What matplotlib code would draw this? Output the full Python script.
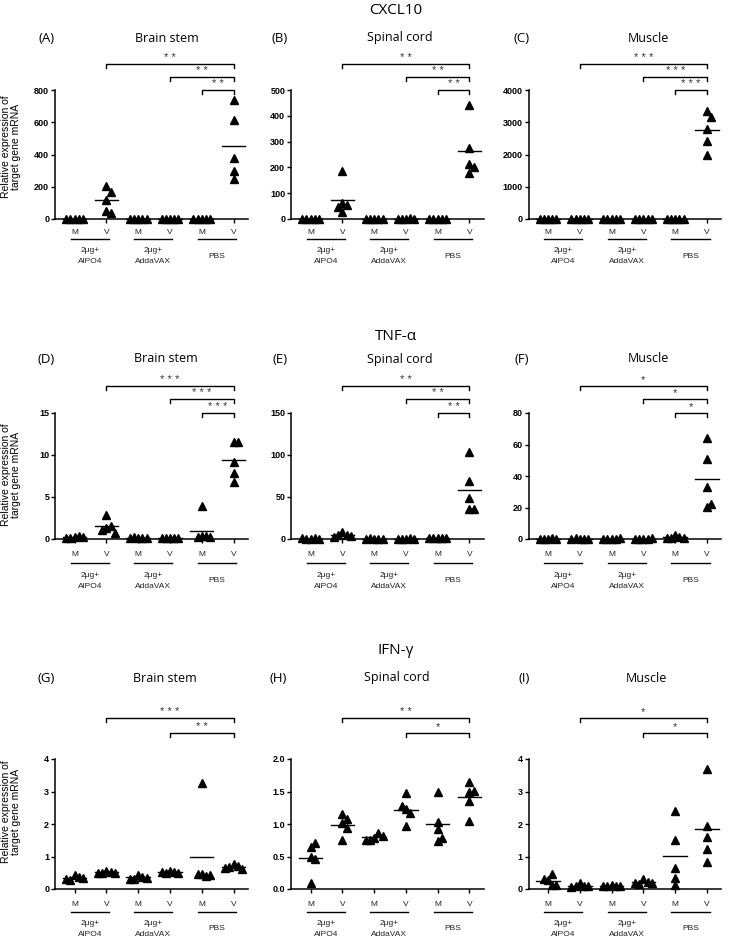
import numpy as np
import matplotlib
matplotlib.use('Agg')
import matplotlib.pyplot as plt
from matplotlib.transforms import blended_transform_factory

# ---------------- data ----------------
positions = [0, 1, 2, 3, 4, 5]
pos_labels = ['M', 'V', 'M', 'V', 'M', 'V']
group_labels = ['2μg+\nAlPO4', '2μg+\nAddaVAX', 'PBS']
genes = ['CXCL10', 'TNF-α', 'IFN-γ']
tissues = ['Brain stem', 'Spinal cord', 'Muscle']
letters = ['(A)', '(B)', '(C)', '(D)', '(E)', '(F)', '(G)', '(H)', '(I)']

cxcl10_brain = [[1.0, 0.8, 1.2, 0.9, 1.1], [202, 170, 118, 52, 35], [1.0, 1.2, 0.8, 0.9, 1.1],
                [1.5, 2.0, 1.2, 1.8, 1.0], [1.0, 0.9, 1.1, 1.2, 0.8], [738, 611, 378, 295, 249]]
cxcl10_spinal = [[1.0, 0.8, 1.2, 0.9, 1.1], [187, 63, 53, 47, 27], [1.0, 1.2, 0.8, 0.9, 1.1],
                 [1.5, 2.0, 1.2, 1.8, 1.0], [1.0, 0.9, 1.1, 1.2, 0.8], [440, 276, 213, 203, 180]]
cxcl10_muscle = [[1.0, 0.8, 1.2, 0.9, 1.1], [2.0, 1.5, 1.2, 1.8, 1.0], [1.0, 1.2, 0.8, 0.9, 1.1],
                 [1.5, 2.0, 1.2, 1.8, 1.0], [1.0, 0.9, 1.1, 1.2, 0.8], [3359, 3152, 2791, 2429, 1995]]
tnf_brain = [[0.20, 0.30, 0.10, 0.25, 0.15], [2.80, 1.35, 1.50, 1.05, 0.75], [0.15, 0.12, 0.18, 0.14, 0.16],
             [0.10, 0.12, 0.08, 0.11, 0.09], [3.90, 0.35, 0.30, 0.25, 0.20], [11.6, 11.5, 9.2, 7.9, 6.8]]
tnf_spinal = [[0.5, 0.6, 0.4, 0.5, 0.7], [8.4, 5.0, 5.0, 4.0, 2.4], [0.5, 0.4, 0.6, 0.5, 0.3],
              [0.5, 0.6, 0.4, 0.5, 0.3], [1.5, 1.0, 0.8, 0.9, 0.8], [103, 69, 49, 36, 36]]
tnf_muscle = [[0.3, 0.4, 0.2, 0.3, 0.3], [0.3, 0.2, 0.4, 0.3, 0.3], [0.3, 0.2, 0.3, 0.4, 0.3],
              [0.3, 0.2, 0.3, 0.4, 0.3], [2.5, 1.0, 0.5, 0.6, 0.4], [64.4, 50.7, 33.3, 20.2, 22.3]]
ifn_brain = [[0.42, 0.36, 0.28, 0.34, 0.30], [0.55, 0.52, 0.50, 0.48, 0.50], [0.42, 0.38, 0.32, 0.35, 0.30],
             [0.56, 0.52, 0.50, 0.48, 0.52], [3.25, 0.47, 0.39, 0.45, 0.44], [0.78, 0.72, 0.68, 0.62, 0.66]]
ifn_spinal = [[0.50, 0.64, 0.71, 0.455, 0.09], [1.01, 0.94, 1.08, 1.15, 0.75], [0.79, 0.86, 0.76, 0.81, 0.76],
              [1.23, 1.47, 1.17, 1.27, 0.97], [1.03, 1.50, 0.92, 0.74, 0.79], [1.50, 1.64, 1.51, 1.36, 1.04]]
ifn_muscle = [[0.28, 0.47, 0.30, 0.12, 0.12], [0.18, 0.10, 0.08, 0.10, 0.07], [0.12, 0.10, 0.08, 0.10, 0.09],
              [0.30, 0.22, 0.16, 0.20, 0.18], [2.41, 1.52, 0.65, 0.34, 0.11], [3.68, 1.93, 1.60, 1.24, 0.83]]

yticks_cxcl10 = [[0, 200, 400, 600, 800], [0, 100, 200, 300, 400, 500], [0, 1000, 2000, 3000, 4000]]
yticks_tnf = [[0, 5, 10, 15], [0, 50, 100, 150], [0, 20, 40, 60, 80]]
yticks_ifn = [[0, 1, 2, 3, 4], [0.0, 0.5, 1.0, 1.5, 2.0], [0, 1, 2, 3, 4]]
ytick_fmt_ifn = ['{:.0f}', '{:.1f}', '{:.0f}']

# significance brackets: (start position, end position, stars)
sig_cxcl10 = [[(1, 5, '* *'), (3, 5, '* *'), (4, 5, '* *')],
              [(1, 5, '* *'), (3, 5, '* *'), (4, 5, '* *')],
              [(1, 5, '* * *'), (3, 5, '* * *'), (4, 5, '* * *')]]
sig_tnf = [[(1, 5, '* * *'), (3, 5, '* * *'), (4, 5, '* * *')],
           [(1, 5, '* *'), (3, 5, '* *'), (4, 5, '* *')],
           [(1, 5, '*'), (3, 5, '*'), (4, 5, '*')]]
sig_ifn = [[(1, 5, '* * *'), (3, 5, '* *')],
           [(1, 5, '* *'), (3, 5, '*')],
           [(1, 5, '*'), (3, 5, '*')]]

panels = [[cxcl10_brain, cxcl10_spinal, cxcl10_muscle],
          [tnf_brain, tnf_spinal, tnf_muscle],
          [ifn_brain, ifn_spinal, ifn_muscle]]
yticks_all = [yticks_cxcl10, yticks_tnf, yticks_ifn]
sig_all = [sig_cxcl10, sig_tnf, sig_ifn]

# ---------------- layout (pixels) ----------------
W, H = 730, 939
fig = plt.figure(figsize=(W / 100, H / 100), dpi=100)

row_top = [90, 413, 759]
row_bot = [219, 539, 889]
col_x0 = [74.5, 310.5, 548]
unit = 31.8
xlim = (-0.6, 5.45)
row_title_y = [37, 358, 677]
gene_y = [9, 335, 648]
gene_x = 396
title_x = [[167, 400, 648], [166, 400, 648], [165, 397, 646]]
letter_x = [[47, 280, 522], [46, 280, 522], [46, 278, 524]]
bracket_y = [[64, 77, 90], [386, 399, 413], [718, 733]]
below = [[232, 239, 256], [555, 563, 581], [904, 912, 929]]
ylabel_y = [147, 475, 812]

TF = 'Open Sans'
AF = 'Liberation Sans'


def fx(px):
    return px / W


def fy(py):
    return 1 - py / H


def swarm(vals, ppu, dmin_y=7.0, step=4.2):
    placed = []
    offs = []
    for v in vals:
        y = v * ppu
        cands = [0]
        for i in range(1, 12):
            cands += [i, -i]
        for c in cands:
            dx = c * step
            ok = True
            for (px, py) in placed:
                if abs(px - dx) < step * 0.99 and abs(py - y) < dmin_y:
                    ok = False
                    break
            if ok:
                break
        placed.append((dx, y))
        offs.append(dx / unit)
    return offs


for r in range(3):
    fig.text(fx(gene_x), fy(gene_y[r] + 5.5), genes[r], fontsize=11, family=TF,
             ha='center', va='baseline')
    for c in range(3):
        data = panels[r][c]
        ticks = yticks_all[r][c]
        ytop = ticks[-1]
        left = col_x0[c] + xlim[0] * unit
        width = (xlim[1] - xlim[0]) * unit
        height = row_bot[r] - row_top[r]
        ax = fig.add_axes([fx(left), fy(row_bot[r]), width / W, height / H])
        ax.set_xlim(*xlim)
        ax.set_ylim(0, ytop)
        for s in ['top', 'right']:
            ax.spines[s].set_visible(False)
        for s in ['left', 'bottom']:
            ax.spines[s].set_linewidth(1.1)
        ax.set_yticks(ticks)
        if r == 2:
            ax.set_yticklabels([ytick_fmt_ifn[c].format(t) for t in ticks])
        else:
            ax.set_yticklabels([str(t) for t in ticks])
        for lab in ax.get_yticklabels():
            lab.set_fontfamily(AF)
            lab.set_fontweight('bold')
            lab.set_fontsize(6.5)
        ax.tick_params(axis='y', length=3, width=1, pad=1.5)
        ax.set_xticks(positions)
        ax.set_xticklabels([])
        ax.tick_params(axis='x', length=3, width=1)

        ppu = height / ytop
        for p, vals in zip(positions, data):
            offs = swarm(vals, ppu)
            ax.plot([p + o for o in offs], vals, linestyle='none', marker='^',
                    markersize=5.6, color='black', clip_on=False, zorder=3)
            m = float(np.mean(vals))
            ax.plot([p - 0.37, p + 0.37], [m, m], color='black', lw=1.0,
                    clip_on=False, zorder=4)

        tr = blended_transform_factory(ax.transData, fig.transFigure)
        # M / V labels and group underlines
        for p, lab in zip(positions, pos_labels):
            ax.text(p, fy(below[r][0]), lab, transform=tr, ha='center', va='center',
                    fontsize=6, family=AF, color='#222222')
        for g in range(3):
            x0 = 2 * g - 0.12
            x1 = 2 * g + 1.08
            ax.plot([x0, x1], [fy(below[r][1])] * 2, transform=tr, color='black',
                    lw=1.0, clip_on=False)
            ax.text(2 * g + 0.48, fy(below[r][2]), group_labels[g], transform=tr,
                    ha='center', va='center', fontsize=6, family=AF,
                    linespacing=1.9, color='#222222')

        # significance brackets
        for (a, b, stars), by in zip(sig_all[r][c], bracket_y[r]):
            yb = fy(by)
            ytk = fy(by + 4)
            ax.plot([a, a, b, b], [ytk, yb, yb, ytk], transform=tr, color='black',
                    lw=1.0, clip_on=False)
            ax.text((a + b) / 2, fy(by - 3), stars, transform=tr, ha='center',
                    va='baseline', fontsize=8, family=AF, color='#333333')

        fig.text(fx(title_x[r][c]), fy(row_title_y[r] + 4.5), tissues[c], fontsize=9,
                 family=TF, ha='center', va='baseline')
        fig.text(fx(letter_x[r][c]), fy(row_title_y[r] + 4.7), letters[3 * r + c],
                 fontsize=9.5, family=TF, ha='center', va='baseline')

    fig.text(fx(11), fy(ylabel_y[r]), 'Relative expression of\ntarget gene mRNA',
             rotation=90, ha='center', va='center', fontsize=7.5, family=AF,
             linespacing=1.1)

fig.savefig('out.png', dpi=100)
